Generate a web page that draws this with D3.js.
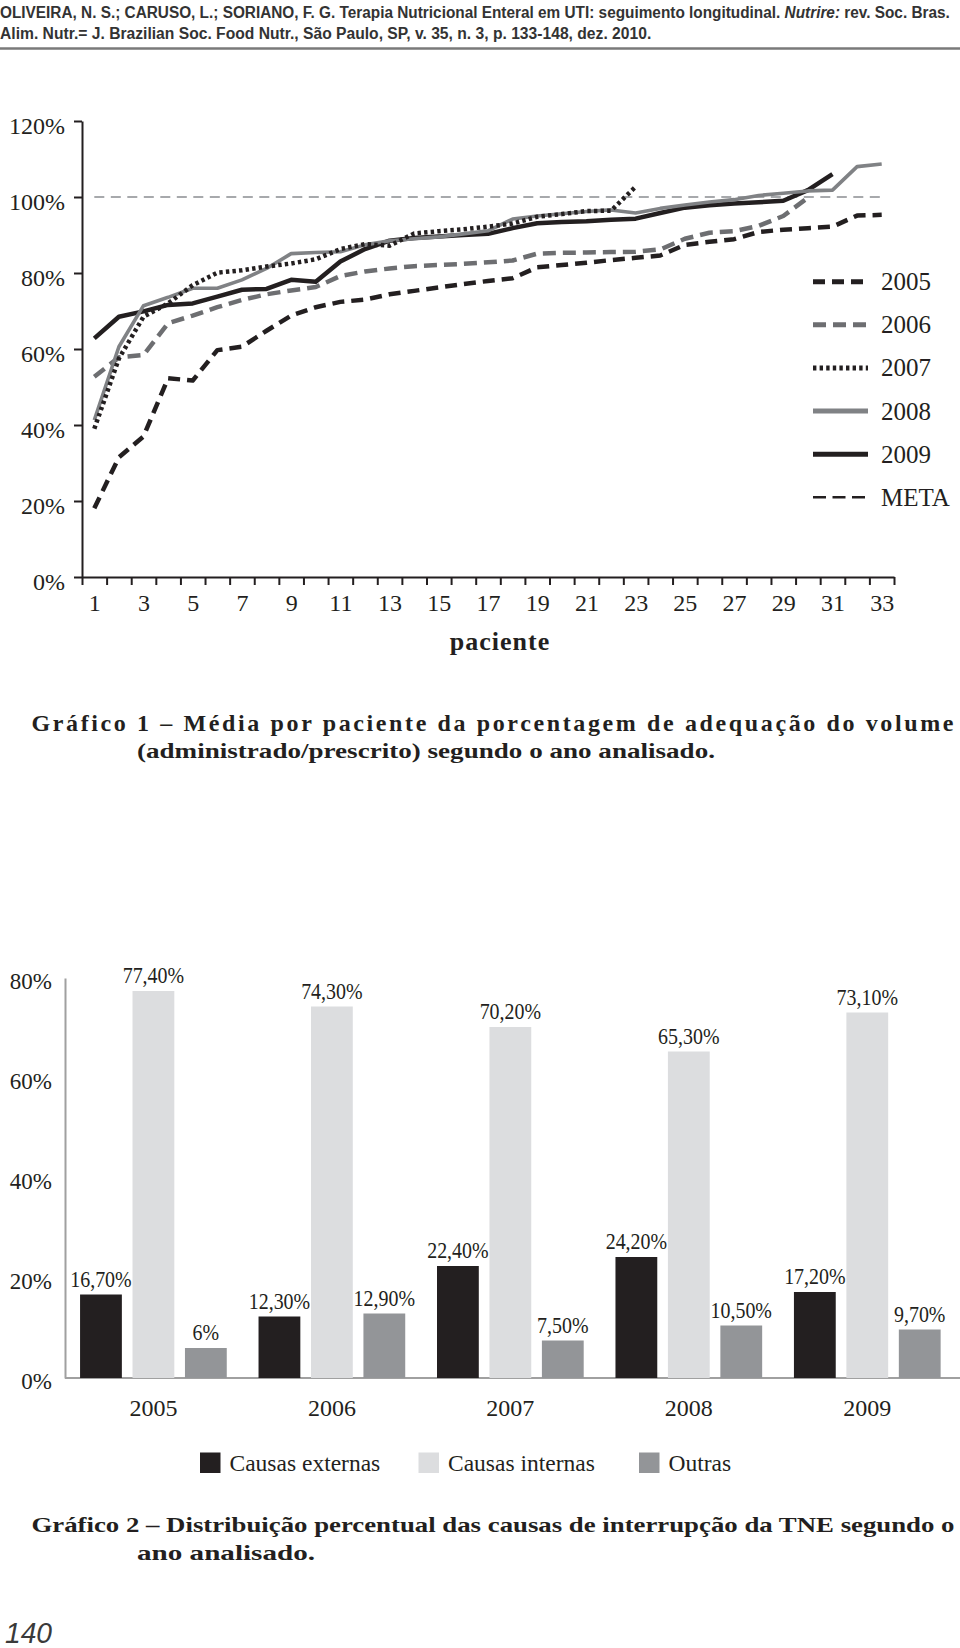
<!DOCTYPE html>
<html>
<head>
<meta charset="utf-8">
<script src="https://cdn.jsdelivr.net/npm/d3@7/dist/d3.min.js"></script>
<style>
  html, body { margin: 0; padding: 0; background: #fff; }
  svg { display: block; }
</style>
</head>
<body>
<svg id="page" width="960" height="1648"></svg>
<script>
// ---------------- DATA: Gráfico 1 ----------------
const patients = [1,2,3,4,5,6,7,8,9,10,11,12,13,14,15,16,17,18,19,20,21,22,23,24,25,26,27,28,29,30,31,32,33];
const xTickLabels = [1,3,5,7,9,11,13,15,17,19,21,23,25,27,29,31,33];
const yTicks1 = [0,20,40,60,80,100,120];
const years1 = ["2005","2006","2007","2008","2009"];
const s2005 = [18.1,31.5,37.0,52.3,51.7,59.7,60.6,64.8,68.8,71.0,72.4,73.0,74.4,75.3,76.2,77.1,77.9,78.6,81.5,82.1,82.7,83.4,84.0,84.6,87.4,88.2,88.9,90.8,91.4,91.8,92.2,95.1,95.3];
const s2006 = [52.7,57.8,58.4,66.8,68.8,71.0,72.9,74.4,75.4,76.3,79.2,80.4,81.2,81.8,82.1,82.4,82.8,83.3,85.1,85.3,85.4,85.5,85.6,86.2,89.0,90.6,91.0,92.4,95.0,99.8];
const s2007 = [39.0,57.5,68.5,72.0,76.8,80.1,80.7,81.7,82.5,83.6,86.3,87.6,87.2,90.4,91.0,91.5,92.2,93.0,94.8,95.5,96.3,96.4,102.7];
const s2008 = [41.3,60.6,71.4,73.6,76.0,76.0,78.2,81.2,85.1,85.4,85.6,87.4,88.5,89.0,89.5,90.3,91.1,94.2,95.0,95.6,96.2,96.6,95.8,97.0,97.9,98.7,99.3,100.4,101.0,101.6,101.8,108.0,108.7];
const s2009 = [62.8,68.5,69.9,71.6,72.0,73.8,75.6,75.8,78.2,77.7,83.0,86.3,88.5,89.2,89.6,90.0,90.3,91.8,93.1,93.4,93.6,94.0,94.3,95.8,97.2,97.8,98.3,98.6,99.0,101.8,106.0];
const metaValue = 100;

// ---------------- DATA: Gráfico 2 ----------------
const years2 = ["2005","2006","2007","2008","2009"];
const causes = ["Causas externas","Causas internas","Outras"];
const externas = [16.7,12.3,22.4,24.2,17.2];
const internas = [77.4,74.3,70.2,65.3,73.1];
const outras = [6.0,12.9,7.5,10.5,9.7];
const yTicks2 = [0,20,40,60,80];

// ---------------- STYLES ----------------
const BLACK = "#231f20";
const serif = "'Liberation Serif', 'Times New Roman', serif";
const svg = d3.select("#page");

// Header (condensed by horizontal scaling to the measured width)
function fitText(textSel, width) {
  const w = textSel.node().getComputedTextLength();
  textSel.attr("transform", `scale(${width / w},1)`);
}
const hdr = svg.append("g").attr("font-family","'Liberation Sans', Arial, sans-serif")
  .attr("font-weight","bold").attr("font-size",17).attr("fill", "#333");
const h1 = hdr.append("text").attr("x",0).attr("y",18.5);
h1.append("tspan").text("OLIVEIRA, N. S.; CARUSO, L.; SORIANO, F. G. Terapia Nutricional Enteral em UTI: seguimento longitudinal. ");
h1.append("tspan").attr("font-style","italic").text("Nutrire:");
h1.append("tspan").text(" rev. Soc. Bras.");
fitText(h1, 951);
const h2 = hdr.append("text").attr("x",0).attr("y",39.5)
  .text("Alim. Nutr.= J. Brazilian Soc. Food Nutr., São Paulo, SP, v. 35, n. 3, p. 133-148, dez. 2010.");
fitText(h2, 652);
svg.append("line").attr("x1",0).attr("x2",960).attr("y1",48.5).attr("y2",48.5)
  .attr("stroke","#7a7a7a").attr("stroke-width",2.5);

// ---------------- CHART 1 ----------------
const x1 = d3.scaleLinear().domain([0.5, 33.5]).range([82, 894]);
const y1 = d3.scaleLinear().domain([0, 120]).range([577, 121]);
const c1 = svg.append("g");

// y axis
const yAx = c1.append("g").attr("transform","translate(82,0)")
  .call(d3.axisLeft(y1).tickValues(yTicks1).tickSize(8).tickSizeOuter(0).tickPadding(9).tickFormat(d => d + "%"));
yAx.selectAll("path,line").attr("stroke", BLACK).attr("stroke-width", 2);
yAx.selectAll("text").attr("font-family", serif).attr("font-size", 24).attr("fill", BLACK).attr("dy","0.52em");

// x axis boundary ticks
const boundaries = patients.map(p => p - 0.5).concat([patients[patients.length-1] + 0.5]);
const xAx = c1.append("g").attr("transform","translate(0,577)")
  .call(d3.axisBottom(x1).tickValues(boundaries).tickSize(8).tickSizeOuter(0).tickFormat(""));
xAx.selectAll("path,line").attr("stroke", BLACK).attr("stroke-width", 2);
// x labels
const xLab = c1.append("g").attr("transform","translate(0,577)")
  .call(d3.axisBottom(x1).tickValues(xTickLabels).tickSize(0).tickPadding(17).tickFormat(d => d));
xLab.select(".domain").remove();
xLab.selectAll("text").attr("font-family", serif).attr("font-size", 24).attr("fill", BLACK);

c1.append("text").attr("x", 500).attr("y", 650).attr("text-anchor","middle")
  .attr("font-family", serif).attr("font-weight","bold").attr("font-size", 26)
  .attr("letter-spacing", 1).attr("fill", BLACK).text("paciente");

// lines
const lineGen = d3.line().x((d,i) => x1(patients[i])).y(d => y1(d)).curve(d3.curveLinear);
const seriesStyles = {
  "2005": {data: s2005, stroke: BLACK, width: 4.5, dash: "12,7"},
  "2006": {data: s2006, stroke: "#6d6e71", width: 4.5, dash: "13,7"},
  "2007": {data: s2007, stroke: BLACK, width: 4.5, dash: "3.4,3.2"},
  "2008": {data: s2008, stroke: "#808285", width: 3.6, dash: null},
  "2009": {data: s2009, stroke: BLACK, width: 4.5, dash: null}
};
// meta line
const metaLine = [metaValue, metaValue];
c1.append("line")
  .attr("x1", x1(patients[0])).attr("x2", x1(patients[patients.length-1]))
  .attr("y1", y1(metaLine[0])).attr("y2", y1(metaLine[1]))
  .attr("stroke","#a7a9ac").attr("stroke-width",2.2).attr("stroke-dasharray","10,6.5");

["2005","2006","2009","2008","2007"].forEach(k => {
  const s = seriesStyles[k];
  c1.append("path").datum(s.data).attr("d", lineGen)
    .attr("fill","none").attr("stroke", s.stroke).attr("stroke-width", s.width)
    .attr("stroke-linejoin","round")
    .attr("stroke-dasharray", s.dash);
});

// legend 1
const legItems = years1.map(y => ({label: y, ...seriesStyles[y]}))
  .concat([{label: "META", stroke: BLACK, width: 2.4, dash: "13,6.5"}]);
const legY = d3.scaleLinear().domain([0, 5]).range([281.7, 497.3]);
const lg = c1.append("g");
legItems.forEach((d, i) => {
  lg.append("line").attr("x1", 813).attr("x2", 868).attr("y1", legY(i)).attr("y2", legY(i))
    .attr("stroke", d.stroke).attr("stroke-width", d.label === "META" ? 2.4 : 5)
    .attr("stroke-dasharray", d.dash);
  lg.append("text").attr("x", 881).attr("y", legY(i) + 8.5)
    .attr("font-family", serif).attr("font-size", 25).attr("fill", BLACK).text(d.label);
});

// caption 1
const cap = svg.append("g").attr("font-family", serif).attr("font-weight","bold").attr("fill", BLACK);
cap.append("text").attr("x", 31.5).attr("y", 731).attr("font-size", 24).attr("textLength", 922).attr("lengthAdjust","spacing")
  .text("Gráfico 1 – Média por paciente da porcentagem de adequação do volume");
cap.append("text").attr("x", 137).attr("y", 757.5).attr("font-size", 22).attr("textLength", 578).attr("lengthAdjust","spacingAndGlyphs")
  .text("(administrado/prescrito) segundo o ano analisado.");

// ---------------- CHART 2 ----------------
const y2 = d3.scaleLinear().domain([0, 80]).range([1378, 978]);
const x2 = d3.scaleBand().domain(years2).range([64, 956.7]).paddingInner(0.178).paddingOuter(0.09);
const xs = d3.scaleBand().domain(causes).range([0, x2.bandwidth()]).paddingInner(0.203).paddingOuter(0);
const colors2 = d3.scaleOrdinal().domain(causes).range([BLACK, "#dcdddf", "#939598"]);
const c2 = svg.append("g");

const yAx2 = c2.append("g").attr("transform","translate(65,0)")
  .call(d3.axisLeft(y2).tickValues(yTicks2).tickSize(0).tickSizeOuter(0).tickPadding(13).tickFormat(d => d + "%"));
yAx2.select(".domain").attr("stroke","#a0a0a0").attr("stroke-width",2);
yAx2.selectAll("text").attr("font-family", serif).attr("font-size", 23).attr("fill", BLACK).attr("dy","0.45em");

c2.append("line").attr("x1", 65).attr("x2", 960).attr("y1", y2(0)).attr("y2", y2(0))
  .attr("stroke","#a0a0a0").attr("stroke-width",2);

const rows = years2.map((yr, i) => ({year: yr, vals: [
  {cause: causes[0], v: externas[i]},
  {cause: causes[1], v: internas[i]},
  {cause: causes[2], v: outras[i]}
]}));
const fmt = v => (Number.isInteger(v) ? String(v) : v.toFixed(2).replace(".", ",")) + "%";

const grp = c2.selectAll("g.yr").data(rows).join("g").attr("class","yr")
  .attr("transform", d => `translate(${x2(d.year)},0)`);
grp.selectAll("rect").data(d => d.vals).join("rect")
  .attr("x", d => xs(d.cause)).attr("width", xs.bandwidth())
  .attr("y", d => y2(d.v)).attr("height", d => y2(0) - y2(d.v))
  .attr("fill", d => colors2(d.cause));
const valLabels = grp.selectAll("text.val").data(d => d.vals).join("text").attr("class","val")
  .attr("x", d => xs(d.cause) + xs.bandwidth()/2).attr("y", d => y2(d.v) - 8)
  .attr("text-anchor","middle").attr("font-family", serif).attr("font-size", 24)
  .attr("fill", BLACK).text(d => fmt(d.v));
// condensed look: narrow each label to ~83% of its natural width
valLabels.each(function() {
  const w = this.getComputedTextLength();
  d3.select(this).attr("textLength", w * 0.83).attr("lengthAdjust", "spacingAndGlyphs");
});

const xAx2 = c2.append("g").attr("transform", `translate(0,${y2(0)})`)
  .call(d3.axisBottom(x2).tickSize(0).tickPadding(21));
xAx2.select(".domain").remove();
xAx2.selectAll("text").attr("font-family", serif).attr("font-size", 24).attr("fill", BLACK);

// legend 2
const leg2x = [200, 418.5, 639];
causes.forEach((c, i) => {
  c2.append("rect").attr("x", leg2x[i]).attr("y", 1452.5).attr("width", 20.5).attr("height", 20.5).attr("fill", colors2(c));
  c2.append("text").attr("x", leg2x[i] + 29.5).attr("y", 1470.5)
    .attr("font-family", serif).attr("font-size", 23.5).attr("fill", BLACK).text(c);
});

// caption 2
const cap2 = svg.append("g").attr("font-family", serif).attr("font-weight","bold").attr("font-size", 22).attr("fill", BLACK);
cap2.append("text").attr("x", 31.5).attr("y", 1531.5).attr("textLength", 923).attr("lengthAdjust","spacingAndGlyphs")
  .text("Gráfico 2 – Distribuição percentual das causas de interrupção da TNE segundo o");
cap2.append("text").attr("x", 137).attr("y", 1560).attr("textLength", 178).attr("lengthAdjust","spacingAndGlyphs")
  .text("ano analisado.");

// page number
svg.append("text").attr("x", 5).attr("y", 1643).attr("font-family","'Liberation Sans', Arial, sans-serif")
  .attr("font-style","italic").attr("font-size", 29).attr("fill","#3a3a3a")
  .attr("textLength", 47).attr("lengthAdjust","spacingAndGlyphs").text("140");
</script>
</body>
</html>
